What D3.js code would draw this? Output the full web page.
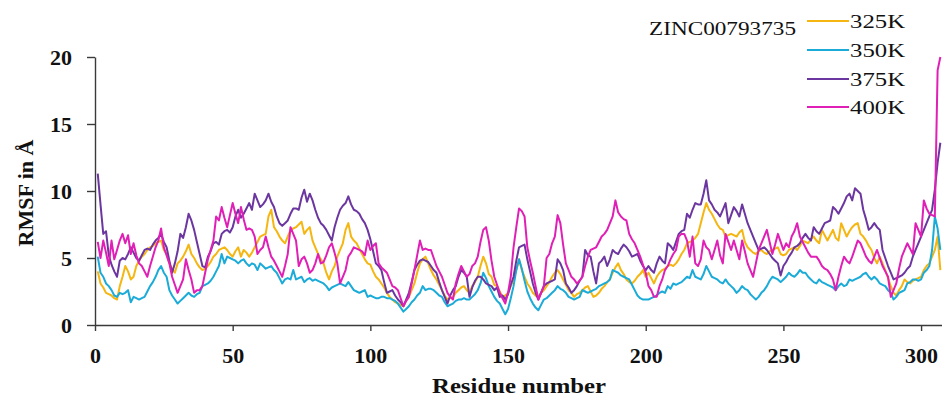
<!DOCTYPE html>
<html>
<head>
<meta charset="utf-8">
<script src="https://cdn.jsdelivr.net/npm/d3@7"></script>
<style>
  html, body { margin: 0; padding: 0; background: #fff; }
  svg { display: block; }
  .axis path, .axis line { stroke: #3a3a3a; stroke-width: 1.4; }
  .axis text { font-family: "Liberation Serif", "DejaVu Serif", serif; font-weight: bold; font-size: 22px; fill: #111; }
</style>
</head>
<body>
<svg id="chart" width="942" height="404"></svg>
<script>
// residue numbers 1..307
var residues = d3.range(1, 308)

var rmsf325 = [
  4.0, 3.1, 2.8, 2.4, 2.3, 2.2, 2.0, 1.9, 2.9, 3.6,
  4.4, 4.0, 3.4, 3.6, 4.4, 4.8, 5.1, 5.3, 5.6, 5.8,
  5.9, 6.1, 6.2, 6.3, 5.6, 5.3, 4.6, 4.2, 3.9, 4.6,
  4.8, 5.1, 5.5, 6.0, 5.3, 5.0, 4.6, 4.3, 4.1, 4.2,
  4.4, 4.7, 5.1, 5.3, 5.6, 5.7, 5.8, 5.6, 5.3, 5.1,
  5.5, 5.8, 5.1, 5.6, 5.4, 5.1, 5.4, 5.8, 6.2, 6.6,
  6.7, 6.8, 8.1, 8.6, 7.3, 7.0, 6.6, 6.3, 6.1, 6.6,
  7.1, 7.2, 7.3, 7.5, 7.7, 6.8, 7.1, 7.3, 6.3, 5.8,
  5.3, 4.9, 4.6, 3.9, 3.4, 4.0, 4.4, 5.1, 5.6, 6.1,
  7.1, 7.6, 6.6, 6.3, 6.1, 5.7, 5.3, 4.9, 4.6, 4.5,
  4.0, 3.6, 3.4, 3.1, 2.8, 2.4, 2.1, 1.9, 1.7, 1.6,
  1.5, 1.4, 1.8, 2.1, 2.6, 3.1, 3.9, 4.6, 4.9, 5.1,
  4.6, 4.1, 3.7, 3.4, 3.0, 2.6, 2.2, 1.9, 2.0, 2.1,
  2.4, 2.6, 2.8, 2.9, 2.6, 2.4, 2.9, 3.2, 3.6, 4.4,
  5.1, 4.6, 3.8, 3.6, 3.0, 2.9, 2.5, 2.1, 2.2, 2.4,
  2.9, 3.4, 4.1, 4.9, 4.1, 3.6, 3.1, 2.8, 2.4, 2.2,
  2.1, 2.4, 2.6, 2.9, 3.2, 3.6, 3.9, 4.1, 3.8, 3.4,
  3.0, 2.6, 2.4, 2.1, 2.3, 2.4, 2.6, 2.8, 2.9, 2.5,
  2.1, 2.2, 2.4, 2.7, 2.9, 3.2, 3.4, 3.9, 4.3, 4.6,
  4.1, 3.8, 3.4, 3.2, 3.1, 3.3, 3.6, 3.8, 4.1, 3.6,
  3.9, 3.5, 3.1, 3.6, 3.9, 4.1, 4.2, 4.4, 4.5, 4.4,
  4.6, 4.9, 5.3, 5.6, 6.1, 6.2, 6.3, 6.5, 6.8, 7.6,
  8.4, 9.1, 8.6, 8.3, 7.9, 7.5, 7.2, 7.1, 6.6, 6.7,
  6.8, 6.7, 6.6, 6.9, 7.1, 6.2, 5.8, 5.6, 5.4, 5.3,
  5.5, 5.6, 5.4, 5.3, 5.5, 5.6, 5.7, 5.8, 5.3, 5.2,
  5.3, 5.6, 5.7, 5.8, 5.6, 5.9, 6.3, 6.2, 6.1, 6.4,
  6.6, 6.3, 6.1, 7.1, 6.7, 6.3, 6.7, 7.1, 6.5, 6.3,
  7.6, 7.1, 6.6, 7.0, 7.3, 7.5, 7.6, 6.8, 6.6, 6.3,
  5.9, 5.6, 5.0, 4.6, 5.1, 4.6, 4.1, 3.5, 2.9, 2.4,
  2.2, 2.6, 2.9, 3.4, 3.2, 3.1, 3.3, 3.4, 3.5, 3.6,
  4.1, 4.4, 4.6, 5.1, 5.6, 6.6, 4.1
]

var rmsf350 = [
  5.1, 3.9, 3.6, 3.1, 2.9, 2.6, 2.2, 2.1, 2.4, 2.3,
  2.4, 2.6, 1.7, 2.1, 2.0, 1.9, 2.0, 2.1, 2.5, 2.9,
  3.2, 3.6, 4.1, 4.4, 3.9, 3.6, 2.6, 2.2, 1.9, 1.6,
  1.8, 2.0, 2.2, 2.4, 2.2, 2.1, 2.3, 2.4, 2.9, 3.0,
  3.1, 3.3, 3.6, 4.0, 4.4, 5.3, 4.6, 5.1, 5.0, 4.9,
  4.8, 4.6, 4.8, 4.9, 4.6, 4.4, 4.6, 4.5, 4.1, 4.6,
  4.4, 4.2, 4.3, 4.4, 4.1, 3.9, 3.5, 3.1, 3.4, 3.5,
  3.4, 4.1, 3.4, 3.5, 3.6, 3.2, 3.4, 3.5, 3.3, 3.4,
  3.3, 3.2, 3.1, 2.9, 2.6, 2.8, 2.9, 3.0, 3.1, 3.0,
  2.9, 3.2, 2.9, 2.6, 2.5, 2.4, 2.5, 2.6, 2.1, 2.2,
  2.1, 2.0, 2.0, 2.1, 2.1, 2.0, 2.0, 1.9, 1.8, 1.6,
  1.3, 1.0, 1.2, 1.4, 1.7, 1.9, 2.2, 2.4, 2.9, 2.6,
  2.7, 2.7, 2.6, 2.4, 2.2, 2.1, 1.7, 1.4, 1.5, 1.6,
  1.8, 1.9, 1.9, 2.0, 1.9, 1.9, 2.1, 2.3, 2.6, 3.1,
  3.9, 3.5, 2.9, 2.5, 2.1, 1.8, 1.6, 1.2, 0.8, 1.2,
  2.0, 2.9, 4.1, 4.9, 4.2, 3.3, 2.5, 2.0, 1.6, 1.3,
  1.1, 1.5, 1.9, 2.0, 2.2, 2.4, 2.6, 2.9, 2.7, 2.6,
  2.4, 2.1, 2.0, 1.9, 2.0, 2.1, 2.6, 2.5, 2.4, 2.5,
  2.6, 2.7, 2.9, 3.0, 3.1, 3.2, 3.4, 4.1, 4.0, 3.9,
  3.7, 3.6, 3.5, 3.4, 3.0, 2.6, 2.2, 2.0, 1.9, 1.9,
  1.9, 2.0, 2.1, 2.2, 2.4, 2.5, 2.4, 2.9, 2.7, 3.1,
  3.0, 3.1, 3.2, 3.4, 3.6, 3.5, 4.1, 3.6, 3.5, 3.4,
  3.8, 4.4, 4.0, 3.6, 3.5, 3.4, 3.2, 3.1, 3.4, 3.1,
  2.9, 2.7, 2.4, 2.6, 2.9, 2.7, 2.6, 2.3, 2.1, 1.9,
  2.1, 2.4, 2.6, 2.9, 3.3, 3.6, 3.5, 3.4, 3.2, 3.4,
  3.6, 3.9, 3.7, 3.6, 3.8, 4.1, 3.9, 3.9, 3.6, 3.4,
  3.2, 3.1, 3.4, 3.2, 3.1, 3.0, 2.9, 2.8, 2.6, 2.9,
  3.1, 2.9, 3.0, 3.4, 3.3, 3.4, 3.5, 3.6, 3.8, 3.9,
  3.6, 3.4, 3.6, 3.4, 3.1, 3.0, 2.9, 2.6, 2.4, 1.9,
  2.1, 2.4, 2.5, 2.6, 3.1, 3.2, 3.4, 3.4, 3.3, 3.4,
  3.9, 4.1, 4.4, 5.6, 8.1, 7.2, 5.6
]

var rmsf375 = [
  11.3, 9.0, 6.8, 7.0, 5.2, 4.5, 4.0, 3.6, 4.8, 5.0,
  4.9, 5.3, 5.8, 5.4, 5.0, 4.8, 5.2, 5.6, 5.7, 5.6,
  6.0, 6.3, 6.5, 6.8, 6.2, 5.8, 4.8, 3.9, 4.6, 5.5,
  6.8, 6.5, 7.3, 8.3, 7.8, 7.1, 6.2, 5.3, 4.4, 4.3,
  5.1, 5.5, 6.1, 6.2, 6.0, 6.8, 7.0, 7.1, 6.9, 7.3,
  8.1, 8.6, 8.0, 8.3, 8.7, 9.1, 8.6, 9.8, 9.3, 8.8,
  9.0, 9.3, 9.8, 9.2, 8.8, 8.1, 7.6, 7.4, 7.6, 7.8,
  8.3, 8.7, 8.7, 8.6, 9.5, 10.1, 9.2, 9.8, 9.3, 8.6,
  8.0, 7.6, 7.4, 7.1, 6.7, 6.3, 7.3, 8.0, 8.6, 8.9,
  9.1, 9.6, 9.0, 8.6, 8.5, 8.3, 7.9, 7.6, 7.1, 6.4,
  5.5, 4.6, 4.4, 4.1, 3.2, 2.4, 2.5, 2.6, 2.2, 1.9,
  1.7, 1.4, 1.9, 2.4, 3.2, 4.1, 4.5, 4.8, 4.9, 4.8,
  4.7, 4.4, 4.1, 3.9, 3.2, 2.6, 2.1, 1.6, 2.2, 2.6,
  2.9, 3.6, 4.1, 3.9, 3.6, 2.1, 2.8, 3.3, 3.6, 3.6,
  3.4, 3.1, 3.0, 2.9, 2.6, 2.8, 2.1, 2.2, 1.9, 2.3,
  3.0, 3.6, 4.8, 5.8, 5.9, 6.0, 4.9, 4.0, 3.1, 2.4,
  1.9, 2.4, 2.9, 3.1, 3.2, 3.3, 3.4, 4.9, 4.6, 4.1,
  3.1, 2.8, 2.4, 2.6, 2.9, 3.3, 3.6, 5.6, 5.2, 5.1,
  4.0, 3.1, 4.6, 4.8, 5.1, 4.4, 4.9, 5.6, 5.4, 5.3,
  5.7, 6.0, 5.8, 5.5, 5.1, 5.2, 5.3, 4.8, 4.4, 4.1,
  4.4, 4.1, 3.9, 4.6, 5.1, 4.8, 4.6, 6.1, 5.9, 5.6,
  6.2, 6.8, 7.0, 7.1, 8.3, 8.0, 8.6, 9.1, 9.0, 9.0,
  9.8, 10.8, 9.3, 9.0, 8.6, 8.4, 8.1, 8.6, 9.1, 7.6,
  8.2, 8.8, 8.5, 8.1, 9.0, 8.3, 7.6, 7.1, 6.6, 6.1,
  5.6, 5.7, 5.8, 5.6, 5.3, 5.0, 4.8, 4.6, 3.7, 4.4,
  4.7, 5.1, 5.4, 5.8, 5.9, 6.1, 6.5, 6.8, 6.5, 6.3,
  7.3, 7.0, 6.8, 7.2, 7.6, 7.7, 7.8, 8.8, 8.6, 8.3,
  8.7, 9.1, 9.6, 9.8, 9.3, 10.2, 10.0, 9.8, 8.6, 7.9,
  7.1, 7.3, 7.6, 7.3, 7.1, 5.6, 5.0, 4.4, 3.9, 3.4,
  3.5, 3.6, 3.7, 3.9, 4.2, 4.4, 5.1, 5.6, 6.1, 6.6,
  7.1, 7.6, 8.1, 8.6, 10.1, 12.1, 13.6
]

var rmsf400 = [
  6.2, 5.0, 6.3, 5.4, 4.4, 6.3, 4.9, 5.6, 6.3, 6.8,
  6.1, 6.7, 5.3, 6.1, 5.2, 4.6, 4.4, 4.0, 3.6, 4.4,
  5.1, 5.8, 6.3, 7.2, 5.8, 5.2, 4.6, 3.6, 3.0, 2.4,
  2.9, 3.4, 4.9, 4.1, 3.4, 2.4, 2.6, 2.6, 2.9, 3.9,
  4.9, 5.6, 6.3, 8.1, 7.8, 8.8, 8.0, 7.3, 8.2, 9.1,
  8.3, 7.6, 8.8, 7.9, 7.1, 7.2, 7.1, 6.6, 5.3, 5.6,
  5.8, 6.6, 5.8, 5.1, 4.8, 4.4, 4.0, 3.6, 4.4, 5.3,
  7.3, 6.8, 6.3, 4.4, 4.9, 5.1, 4.6, 3.9, 4.1, 4.6,
  5.3, 4.6, 4.7, 5.2, 5.8, 6.1, 5.4, 4.6, 3.1, 3.6,
  4.1, 5.1, 5.4, 5.8, 5.7, 5.6, 5.5, 5.2, 6.3, 5.6,
  5.9, 6.1, 4.6, 4.3, 4.1, 3.9, 3.4, 2.9, 2.8, 2.6,
  2.0, 1.4, 1.8, 2.1, 3.1, 4.1, 5.2, 6.3, 5.6, 5.7,
  5.6, 5.6, 5.0, 4.4, 4.0, 3.6, 3.0, 2.4, 2.1, 1.9,
  3.1, 3.8, 4.4, 4.0, 3.6, 3.8, 4.4, 4.6, 5.1, 6.2,
  7.1, 7.3, 6.3, 4.8, 3.6, 3.0, 2.4, 2.0, 1.6, 2.4,
  3.6, 5.8, 7.3, 8.7, 8.5, 8.1, 5.8, 4.8, 3.9, 2.9,
  1.9, 2.4, 2.9, 5.0, 5.3, 6.1, 6.6, 8.2, 7.6, 6.0,
  4.6, 4.1, 3.6, 3.4, 3.1, 3.3, 3.6, 4.4, 5.1, 5.6,
  5.7, 5.8, 6.2, 6.6, 6.8, 7.1, 7.6, 8.1, 9.3, 8.4,
  8.1, 7.9, 7.8, 6.8, 6.4, 6.1, 5.6, 5.1, 4.5, 3.9,
  2.9, 2.6, 2.1, 2.1, 2.9, 3.4, 4.1, 4.4, 4.9, 5.3,
  5.6, 6.6, 6.8, 6.8, 6.3, 5.1, 6.6, 4.6, 4.4, 4.9,
  6.3, 5.8, 5.6, 4.9, 5.6, 6.3, 5.2, 4.6, 6.8, 6.2,
  5.6, 6.3, 5.6, 4.9, 6.3, 5.5, 4.6, 4.1, 3.6, 4.6,
  5.6, 6.1, 6.6, 7.1, 6.2, 5.3, 6.0, 6.8, 6.2, 5.6,
  6.1, 5.8, 6.6, 7.0, 7.6, 6.6, 6.2, 5.8, 5.4, 5.1,
  5.1, 5.1, 4.8, 4.4, 4.2, 4.1, 3.8, 3.4, 2.6, 3.6,
  4.4, 5.1, 4.8, 4.6, 5.1, 5.7, 6.3, 6.1, 5.6, 5.1,
  4.8, 4.6, 5.1, 5.6, 5.0, 4.4, 4.0, 3.6, 2.1, 2.6,
  3.1, 4.2, 5.1, 5.6, 6.1, 5.7, 5.3, 7.6, 7.1, 6.6,
  9.3, 8.7, 8.3, 8.2, 8.1, 19.0, 20.0
]

var seriesNames = ['325K', '350K', '375K', '400K']
var seriesColors = ['#f6b611', '#1babd8', '#6c36a0', '#e01fb6']
var yTicks = [0, 5, 10, 15, 20]
var xTicks = [0, 50, 100, 150, 200, 250, 300]

var series = [rmsf325, rmsf350, rmsf375, rmsf400].map(function (vals, i) {
  return {
    name: seriesNames[i],
    color: seriesColors[i],
    values: vals.map(function (v, j) { return {r: residues[j], v: v} })
  }
})

var svg = d3.select('#chart')

var x = d3.scaleLinear().domain([0, 307.6]).range([95, 942])
var y = d3.scaleLinear().domain([0, 20]).range([325, 57])

// x axis
svg.append('g')
  .attr('class', 'axis')
  .attr('transform', 'translate(0,325)')
  .call(d3.axisBottom(x).tickValues(xTicks).tickSize(6).tickSizeOuter(0).tickPadding(16))

// y axis
svg.append('g')
  .attr('class', 'axis')
  .attr('transform', 'translate(95,0)')
  .call(d3.axisLeft(y).tickValues(yTicks).tickSize(8).tickSizeOuter(0).tickPadding(15))

var line = d3.line()
  .x(function (d) { return x(d.r) })
  .y(function (d) { return y(d.v) })

svg.append('g')
  .selectAll('path')
  .data(series)
  .enter()
  .append('path')
  .attr('d', function (d) { return line(d.values) })
  .attr('fill', 'none')
  .attr('stroke', function (d) { return d.color })
  .attr('stroke-width', 2)
  .attr('stroke-linejoin', 'round')

// axis titles
svg.append('text')
  .attr('transform', 'translate(33,193) rotate(-90)')
  .attr('text-anchor', 'middle')
  .style('font-family', '"Liberation Serif", serif')
  .style('font-weight', 'bold')
  .style('font-size', '22px')
  .attr('fill', '#111')
  .text('RMSF in Å')

svg.append('text')
  .attr('x', 519)
  .attr('y', 393)
  .attr('text-anchor', 'middle')
  .attr('textLength', 174)
  .attr('lengthAdjust', 'spacingAndGlyphs')
  .style('font-family', '"Liberation Serif", serif')
  .style('font-weight', 'bold')
  .style('font-size', '22px')
  .attr('fill', '#111')
  .text('Residue number')

// legend
svg.append('text')
  .attr('x', 649)
  .attr('y', 35)
  .attr('textLength', 147)
  .attr('lengthAdjust', 'spacingAndGlyphs')
  .style('font-family', '"Liberation Serif", serif')
  .style('font-size', '18px')
  .attr('fill', '#111')
  .text('ZINC00793735')

var legend = svg.append('g')
  .selectAll('g')
  .data(series)
  .enter()
  .append('g')
  .attr('transform', function (d, i) { return 'translate(807,' + [21, 50, 79, 107][i] + ')' })

legend.append('line')
  .attr('x1', 0).attr('x2', 42)
  .attr('stroke', function (d) { return d.color })
  .attr('stroke-width', 2)

legend.append('text')
  .attr('x', 43)
  .attr('y', 7)
  .attr('textLength', 55)
  .attr('lengthAdjust', 'spacingAndGlyphs')
  .style('font-family', '"Liberation Serif", serif')
  .style('font-size', '18px')
  .attr('fill', '#111')
  .text(function (d) { return d.name })
</script>
</body>
</html>
